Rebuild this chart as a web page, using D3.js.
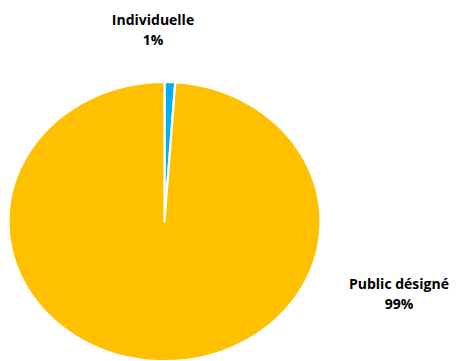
<!DOCTYPE html>
<html><head><meta charset="utf-8">
<script src="https://cdn.jsdelivr.net/npm/d3@7"></script>
<style>body{margin:0;background:#fff}svg{display:block}</style>
</head><body>
<script>
const categories = ["Individuelle", "Public désigné"];
const values = [1.1, 98.9];
const labels = ["1%", "99%"];
const colors = ["#00B0F0", "#FFC000"];

const W = 456, H = 361;
const svg = d3.select("body").append("svg").attr("width", W).attr("height", H);
const cx = 164.5, cy = 221.5, rx = 156, ry = 139.5;
const pie = d3.pie().sort(null).value(d => d.v);
const arcs = pie(categories.map((c, i) => ({c, v: values[i]})));
const arc = d3.arc().innerRadius(0).outerRadius(rx);
const g = svg.append("g").attr("transform", `translate(${cx},${cy}) scale(1,${ry/rx})`);
g.selectAll("path").data(arcs).join("path")
  .attr("d", arc)
  .attr("fill", (d, i) => colors[i])
  .attr("stroke", "#fff").attr("stroke-width", 2.2).attr("stroke-linejoin", "round");

const labPos = [[153, 25], [399, 289]];
const font = "'Open Sans', sans-serif";
categories.forEach((c, i) => {
  const t = svg.append("text").attr("x", labPos[i][0]).attr("y", labPos[i][1])
    .attr("text-anchor", "middle").attr("font-family", font).attr("font-weight", "bold")
    .attr("font-size", 14).attr("fill", "#000");
  t.append("tspan").attr("x", labPos[i][0]).text(c);
  t.append("tspan").attr("x", labPos[i][0]).attr("dy", 20).text(labels[i]);
});
</script>
</body></html>
